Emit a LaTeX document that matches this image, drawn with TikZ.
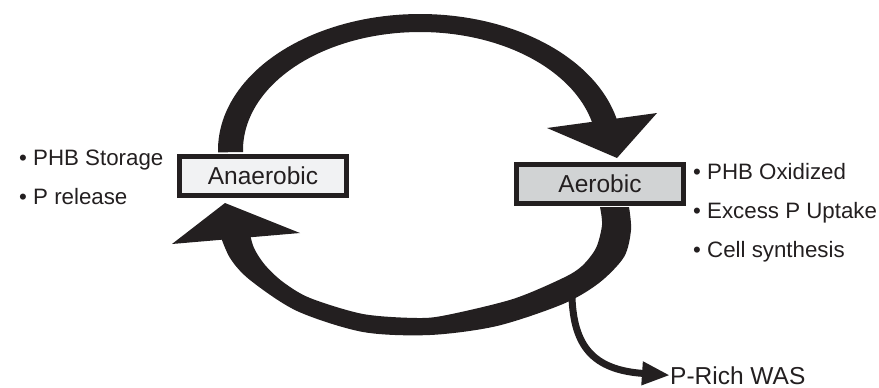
\documentclass[tikz,border=0pt]{standalone}
\usepackage{fontspec}
\setmainfont{Liberation Sans}
\usetikzlibrary{arrows.meta}
\definecolor{ink}{HTML}{231F20}
\definecolor{lightbox}{HTML}{F1F2F3}
\definecolor{graybox}{HTML}{D1D3D4}
\begin{document}
\begin{tikzpicture}[x=1pt,y=-1pt,
  stage/.style={draw=ink, line width=5pt, minimum width=167pt, minimum height=39pt, inner sep=0pt,
    font=\fontsize{24.5}{28}\selectfont, text=ink},
  bulletitem/.style={anchor=base west, inner sep=0pt, font=\fontsize{22.3}{26}\selectfont, text=ink},
  band/.style={fill=ink, draw=none}]
\useasboundingbox (0,0) rectangle (879,388);

% top band (Anaerobic -> Aerobic)
\fill[band] plot[domain=181:10, samples=90] ({420+202*cos(\x)},{150-136*sin(\x)})
  -- plot[domain=10:181, samples=90] ({420+177*cos(\x)},{150-118*sin(\x)}) -- cycle;
\fill[band] (547,128) -- (657,113) -- (617,158) -- cycle;

% bottom band (Aerobic -> Anaerobic)
\fill[band] plot[smooth] coordinates {(629,207) (631,230) (624,257) (599,283) (563,304) (497,326) (430,335) (363,332) (297,311) (250,280) (230,258) (219,232)}
  -- plot[smooth] coordinates {(249,230) (254,248) (265,265) (283,282) (310,298) (363,314) (417,318) (447,315) (513,299) (563,278) (582,266) (596,248) (602,225) (600,207)} -- cycle;
\fill[band] (172,244) -- (225,203) -- (300,233) -- cycle;

% stages
\node[stage, fill=lightbox] (ana) at (263,176) {Anaerobic};
\node[stage, fill=graybox] (aer) at (600,184) {Aerobic};

% bullet lists
\node[bulletitem] (l1) at (19,165) {• PHB Storage};
\node[bulletitem] (l2) at (19,204) {• P release};
\node[bulletitem] (r1) at (693,179) {• PHB Oxidized};
\node[bulletitem] (r2) at (693,218) {• Excess P Uptake};
\node[bulletitem] (r3) at (693,257) {• Cell synthesis};

% waste
\node[anchor=base west, inner sep=0pt, font=\fontsize{24.5}{28}\selectfont, text=ink] (was) at (670,384) {P-Rich WAS};
\coordinate (wasfrom) at (572,298);
\draw[ink, line width=7pt, -{Triangle[length=28pt,width=22pt]}] (wasfrom) .. controls (574,345) and (592,370) .. (was.west);
\end{tikzpicture}
\end{document}
